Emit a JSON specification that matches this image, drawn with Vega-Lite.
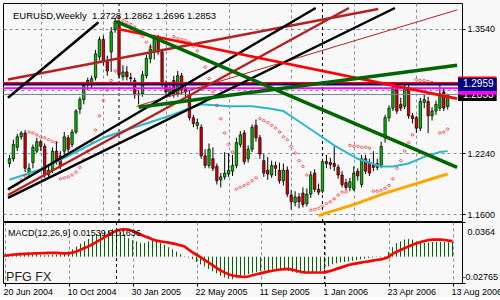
{
  "$schema": "https://vega.github.io/schema/vega-lite/v6.json",
  "background": "#f8f8f8",
  "padding": {"left": 2, "top": 2, "right": 0, "bottom": 0},
  "bounds": "flush",
  "spacing": 1,
  "config": {
    "font": "Liberation Sans",
    "view": {"stroke": "black", "strokeWidth": 1},
    "axis": {"labelFont": "Liberation Sans", "labelFontSize": 9, "labelColor": "black", "tickColor": "black", "tickWidth": 1, "gridColor": "#8090a0", "gridDash": [3, 3], "gridOpacity": 1, "gridWidth": 1}
  },
  "datasets": {
    "bars": [
      {"w":0,"o":1.213,"h":1.222,"l":1.209,"c":1.218,"sar":1.186,"m":0.0013,"s":0.0010},
      {"w":1,"o":1.218,"h":1.238,"l":1.215,"c":1.233,"sar":1.189,"m":0.0020,"s":0.0015},
      {"w":2,"o":1.230,"h":1.244,"l":1.226,"c":1.241,"sar":1.191,"m":0.0034,"s":0.0020},
      {"w":3,"o":1.241,"h":1.247,"l":1.238,"c":1.245,"sar":1.196,"m":0.0038,"s":0.0024},
      {"w":4,"o":1.245,"h":1.248,"l":1.204,"c":1.208,"sar":1.200,"m":0.0031,"s":0.0027},
      {"w":5,"o":1.203,"h":1.213,"l":1.199,"c":1.208,"sar":1.246,"m":0.0024,"s":0.0029},
      {"w":6,"o":1.214,"h":1.233,"l":1.208,"c":1.230,"sar":1.245,"m":0.0024,"s":0.0031},
      {"w":7,"o":1.226,"h":1.240,"l":1.224,"c":1.236,"sar":1.243,"m":0.0024,"s":0.0033},
      {"w":8,"o":1.236,"h":1.238,"l":1.226,"c":1.231,"sar":1.241,"m":0.0024,"s":0.0035},
      {"w":9,"o":1.231,"h":1.234,"l":1.198,"c":1.201,"sar":1.240,"m":0.0016,"s":0.0036},
      {"w":10,"o":1.201,"h":1.211,"l":1.199,"c":1.206,"sar":1.238,"m":0.0013,"s":0.0038},
      {"w":11,"o":1.206,"h":1.230,"l":1.203,"c":1.226,"sar":1.236,"m":0.0016,"s":0.0040},
      {"w":12,"o":1.226,"h":1.236,"l":1.212,"c":1.216,"sar":1.235,"m":0.0020,"s":0.0041},
      {"w":13,"o":1.221,"h":1.226,"l":1.207,"c":1.210,"sar":1.197,"m":0.0020,"s":0.0040},
      {"w":14,"o":1.226,"h":1.246,"l":1.222,"c":1.241,"sar":1.198,"m":0.0031,"s":0.0037},
      {"w":15,"o":1.240,"h":1.243,"l":1.225,"c":1.228,"sar":1.199,"m":0.0042,"s":0.0035},
      {"w":16,"o":1.233,"h":1.249,"l":1.230,"c":1.246,"sar":1.201,"m":0.0056,"s":0.0036},
      {"w":17,"o":1.246,"h":1.270,"l":1.244,"c":1.268,"sar":1.204,"m":0.0078,"s":0.0042},
      {"w":18,"o":1.270,"h":1.283,"l":1.265,"c":1.280,"sar":1.209,"m":0.0107,"s":0.0055},
      {"w":19,"o":1.280,"h":1.298,"l":1.275,"c":1.295,"sar":1.217,"m":0.0136,"s":0.0072},
      {"w":20,"o":1.300,"h":1.303,"l":1.290,"c":1.296,"sar":1.226,"m":0.0161,"s":0.0090},
      {"w":21,"o":1.296,"h":1.305,"l":1.292,"c":1.302,"sar":1.236,"m":0.0186,"s":0.0108},
      {"w":22,"o":1.303,"h":1.332,"l":1.300,"c":1.328,"sar":1.248,"m":0.0215,"s":0.0130},
      {"w":23,"o":1.325,"h":1.346,"l":1.321,"c":1.343,"sar":1.263,"m":0.0234,"s":0.0155},
      {"w":24,"o":1.343,"h":1.347,"l":1.316,"c":1.320,"sar":1.279,"m":0.0252,"s":0.0179},
      {"w":25,"o":1.320,"h":1.326,"l":1.305,"c":1.310,"sar":1.290,"m":0.0266,"s":0.0205},
      {"w":26,"o":1.330,"h":1.356,"l":1.309,"c":1.351,"sar":1.300,"m":0.0277,"s":0.0230},
      {"w":27,"o":1.353,"h":1.366,"l":1.350,"c":1.362,"sar":1.310,"m":0.0288,"s":0.0252},
      {"w":28,"o":1.362,"h":1.364,"l":1.302,"c":1.306,"sar":1.366,"m":0.0288,"s":0.0275},
      {"w":29,"o":1.304,"h":1.316,"l":1.300,"c":1.309,"sar":1.363,"m":0.0262,"s":0.0285},
      {"w":30,"o":1.309,"h":1.315,"l":1.300,"c":1.304,"sar":1.361,"m":0.0234,"s":0.0288},
      {"w":31,"o":1.303,"h":1.308,"l":1.297,"c":1.302,"sar":1.359,"m":0.0194,"s":0.0284},
      {"w":32,"o":1.300,"h":1.303,"l":1.281,"c":1.285,"sar":1.356,"m":0.0172,"s":0.0268},
      {"w":33,"o":1.285,"h":1.290,"l":1.275,"c":1.286,"sar":1.351,"m":0.0161,"s":0.0250},
      {"w":34,"o":1.286,"h":1.310,"l":1.283,"c":1.306,"sar":1.346,"m":0.0143,"s":0.0232},
      {"w":35,"o":1.305,"h":1.327,"l":1.302,"c":1.323,"sar":1.340,"m":0.0143,"s":0.0215},
      {"w":36,"o":1.323,"h":1.338,"l":1.318,"c":1.333,"sar":1.335,"m":0.0161,"s":0.0200},
      {"w":37,"o":1.330,"h":1.348,"l":1.322,"c":1.345,"sar":null,"m":0.0168,"s":0.0180},
      {"w":38,"o":1.345,"h":1.348,"l":1.327,"c":1.330,"sar":null,"m":0.0161,"s":0.0168},
      {"w":39,"o":1.330,"h":1.333,"l":1.293,"c":1.296,"sar":null,"m":0.0143,"s":0.0160},
      {"w":40,"o":1.295,"h":1.300,"l":1.285,"c":1.288,"sar":null,"m":0.0125,"s":0.0154},
      {"w":41,"o":1.287,"h":1.298,"l":1.283,"c":1.292,"sar":null,"m":0.0100,"s":0.0148},
      {"w":42,"o":1.300,"h":1.305,"l":1.282,"c":1.286,"sar":1.346,"m":0.0078,"s":0.0140},
      {"w":43,"o":1.286,"h":1.310,"l":1.283,"c":1.305,"sar":1.344,"m":0.0053,"s":0.0130},
      {"w":44,"o":1.305,"h":1.308,"l":1.285,"c":1.290,"sar":1.343,"m":0.0027,"s":0.0118},
      {"w":45,"o":1.291,"h":1.296,"l":1.283,"c":1.288,"sar":1.342,"m":0.0005,"s":0.0107},
      {"w":46,"o":1.285,"h":1.290,"l":1.258,"c":1.261,"sar":1.340,"m":-0.0009,"s":0.0075},
      {"w":47,"o":1.261,"h":1.264,"l":1.251,"c":1.255,"sar":1.336,"m":-0.0027,"s":0.0045},
      {"w":48,"o":1.253,"h":1.260,"l":1.249,"c":1.256,"sar":1.331,"m":-0.0056,"s":0.0020},
      {"w":49,"o":1.251,"h":1.254,"l":1.218,"c":1.221,"sar":1.323,"m":-0.0081,"s":-0.0005},
      {"w":50,"o":1.221,"h":1.228,"l":1.208,"c":1.211,"sar":1.314,"m":-0.0103,"s":-0.0035},
      {"w":51,"o":1.211,"h":1.234,"l":1.208,"c":1.228,"sar":1.302,"m":-0.0129,"s":-0.0060},
      {"w":52,"o":1.218,"h":1.230,"l":1.205,"c":1.208,"sar":1.288,"m":-0.0154,"s":-0.0090},
      {"w":53,"o":1.210,"h":1.213,"l":1.191,"c":1.195,"sar":1.274,"m":-0.0176,"s":-0.0118},
      {"w":54,"o":1.196,"h":1.203,"l":1.188,"c":1.199,"sar":1.260,"m":-0.0201,"s":-0.0145},
      {"w":55,"o":1.199,"h":1.225,"l":1.196,"c":1.203,"sar":1.245,"m":-0.0219,"s":-0.0165},
      {"w":56,"o":1.202,"h":1.224,"l":1.199,"c":1.206,"sar":1.233,"m":-0.0233,"s":-0.0185},
      {"w":57,"o":1.205,"h":1.222,"l":1.200,"c":1.211,"sar":1.225,"m":-0.0237,"s":-0.0198},
      {"w":58,"o":1.211,"h":1.240,"l":1.208,"c":1.235,"sar":1.186,"m":-0.0219,"s":-0.0205},
      {"w":59,"o":1.233,"h":1.247,"l":1.230,"c":1.243,"sar":1.188,"m":-0.0201,"s":-0.0210},
      {"w":60,"o":1.245,"h":1.248,"l":1.212,"c":1.215,"sar":1.190,"m":-0.0194,"s":-0.0212},
      {"w":61,"o":1.218,"h":1.232,"l":1.214,"c":1.228,"sar":1.192,"m":-0.0183,"s":-0.0208},
      {"w":62,"o":1.228,"h":1.254,"l":1.225,"c":1.251,"sar":1.195,"m":-0.0170,"s":-0.0195},
      {"w":63,"o":1.253,"h":1.259,"l":1.236,"c":1.240,"sar":1.198,"m":-0.0160,"s":-0.0185},
      {"w":64,"o":1.240,"h":1.243,"l":1.218,"c":1.223,"sar":1.260,"m":-0.0150,"s":-0.0175},
      {"w":65,"o":1.216,"h":1.223,"l":1.199,"c":1.203,"sar":1.258,"m":-0.0145,"s":-0.0165},
      {"w":66,"o":1.206,"h":1.220,"l":1.196,"c":1.202,"sar":1.256,"m":-0.0140,"s":-0.0155},
      {"w":67,"o":1.201,"h":1.216,"l":1.198,"c":1.211,"sar":1.253,"m":-0.0135,"s":-0.0148},
      {"w":68,"o":1.211,"h":1.215,"l":1.200,"c":1.208,"sar":1.250,"m":-0.0135,"s":-0.0140},
      {"w":69,"o":1.206,"h":1.214,"l":1.192,"c":1.195,"sar":1.246,"m":-0.0140,"s":-0.0135},
      {"w":70,"o":1.195,"h":1.213,"l":1.190,"c":1.206,"sar":1.241,"m":-0.0145,"s":-0.0130},
      {"w":71,"o":1.206,"h":1.210,"l":1.178,"c":1.181,"sar":1.238,"m":-0.0150,"s":-0.0129},
      {"w":72,"o":1.180,"h":1.185,"l":1.165,"c":1.173,"sar":1.231,"m":-0.0160,"s":-0.0138},
      {"w":73,"o":1.172,"h":1.184,"l":1.168,"c":1.178,"sar":1.224,"m":-0.0170,"s":-0.0148},
      {"w":74,"o":1.178,"h":1.182,"l":1.166,"c":1.173,"sar":1.216,"m":-0.0176,"s":-0.0158},
      {"w":75,"o":1.182,"h":1.188,"l":1.167,"c":1.170,"sar":1.210,"m":-0.0176,"s":-0.0165},
      {"w":76,"o":1.171,"h":1.187,"l":1.168,"c":1.181,"sar":1.201,"m":-0.0170,"s":-0.0166},
      {"w":77,"o":1.181,"h":1.205,"l":1.177,"c":1.201,"sar":1.164,"m":-0.0160,"s":-0.0166},
      {"w":78,"o":1.203,"h":1.207,"l":1.183,"c":1.186,"sar":1.165,"m":-0.0155,"s":-0.0166},
      {"w":79,"o":1.186,"h":1.192,"l":1.180,"c":1.183,"sar":1.166,"m":-0.0150,"s":-0.0166},
      {"w":80,"o":1.184,"h":1.218,"l":1.182,"c":1.215,"sar":1.168,"m":-0.0135,"s":-0.0165},
      {"w":81,"o":1.215,"h":1.222,"l":1.208,"c":1.213,"sar":1.171,"m":-0.0100,"s":-0.0155},
      {"w":82,"o":1.214,"h":1.219,"l":1.207,"c":1.212,"sar":1.173,"m":-0.0080,"s":-0.0142},
      {"w":83,"o":1.213,"h":1.231,"l":1.205,"c":1.210,"sar":1.176,"m":-0.0070,"s":-0.0128},
      {"w":84,"o":1.209,"h":1.212,"l":1.197,"c":1.201,"sar":1.180,"m":-0.0060,"s":-0.0115},
      {"w":85,"o":1.201,"h":1.205,"l":1.188,"c":1.191,"sar":1.183,"m":-0.0056,"s":-0.0102},
      {"w":86,"o":1.193,"h":1.197,"l":1.185,"c":1.188,"sar":1.183,"m":-0.0050,"s":-0.0088},
      {"w":87,"o":1.188,"h":1.198,"l":1.184,"c":1.194,"sar":1.232,"m":-0.0045,"s":-0.0078},
      {"w":88,"o":1.186,"h":1.210,"l":1.184,"c":1.203,"sar":1.231,"m":-0.0035,"s":-0.0070},
      {"w":89,"o":1.205,"h":1.208,"l":1.195,"c":1.200,"sar":1.231,"m":-0.0028,"s":-0.0062},
      {"w":90,"o":1.191,"h":1.222,"l":1.188,"c":1.218,"sar":1.230,"m":-0.0020,"s":-0.0056},
      {"w":91,"o":1.218,"h":1.222,"l":1.202,"c":1.205,"sar":1.230,"m":-0.0013,"s":-0.0050},
      {"w":92,"o":1.214,"h":1.218,"l":1.200,"c":1.203,"sar":1.229,"m":-0.0008,"s":-0.0042},
      {"w":93,"o":1.211,"h":1.226,"l":1.205,"c":1.209,"sar":1.184,"m":-0.0004,"s":-0.0035},
      {"w":94,"o":1.209,"h":1.218,"l":1.206,"c":1.213,"sar":1.184,"m":0.0005,"s":-0.0028},
      {"w":95,"o":1.211,"h":1.236,"l":1.208,"c":1.231,"sar":1.185,"m":0.0005,"s":-0.0020},
      {"w":96,"o":1.240,"h":1.264,"l":1.235,"c":1.261,"sar":1.187,"m":0.0050,"s":-0.0003},
      {"w":97,"o":1.261,"h":1.274,"l":1.257,"c":1.271,"sar":1.190,"m":0.0100,"s":0.0030},
      {"w":98,"o":1.271,"h":1.297,"l":1.268,"c":1.293,"sar":1.197,"m":0.0143,"s":0.0050},
      {"w":99,"o":1.295,"h":1.298,"l":1.265,"c":1.268,"sar":1.208,"m":0.0161,"s":0.0070},
      {"w":100,"o":1.275,"h":1.282,"l":1.268,"c":1.271,"sar":1.216,"m":0.0179,"s":0.0089},
      {"w":101,"o":1.273,"h":1.297,"l":1.270,"c":1.293,"sar":1.226,"m":0.0186,"s":0.0108},
      {"w":102,"o":1.291,"h":1.296,"l":1.260,"c":1.263,"sar":1.235,"m":0.0179,"s":0.0125},
      {"w":103,"o":1.263,"h":1.266,"l":1.255,"c":1.260,"sar":1.243,"m":0.0161,"s":0.0140},
      {"w":104,"o":1.261,"h":1.263,"l":1.245,"c":1.250,"sar":1.301,"m":0.0143,"s":0.0154},
      {"w":105,"o":1.250,"h":1.282,"l":1.247,"c":1.278,"sar":1.300,"m":0.0143,"s":0.0165},
      {"w":106,"o":1.277,"h":1.285,"l":1.271,"c":1.280,"sar":1.300,"m":0.0150,"s":0.0175},
      {"w":107,"o":1.278,"h":1.283,"l":1.245,"c":1.263,"sar":1.299,"m":0.0154,"s":0.0179},
      {"w":108,"o":1.263,"h":1.272,"l":1.258,"c":1.268,"sar":1.298,"m":0.0154,"s":0.0180},
      {"w":109,"o":1.268,"h":1.279,"l":1.264,"c":1.275,"sar":1.297,"m":0.0154,"s":0.0179},
      {"w":110,"o":1.271,"h":1.298,"l":1.268,"c":1.286,"sar":1.245,"m":0.0154,"s":0.0175},
      {"w":111,"o":1.288,"h":1.292,"l":1.268,"c":1.271,"sar":1.246,"m":0.0150,"s":0.0168},
      {"w":112,"o":1.2728,"h":1.2862,"l":1.2696,"c":1.2853,"sar":1.249,"m":0.01539,"s":0.01636}
    ],
    "ma": [
      {"w":0,"p":1.196},{"w":8,"p":1.207},{"w":16,"p":1.223},{"w":24,"p":1.240},{"w":32,"p":1.251},
      {"w":41,"p":1.263},{"w":46,"p":1.271},{"w":49,"p":1.275},{"w":56,"p":1.273},{"w":62,"p":1.273},
      {"w":66,"p":1.271},{"w":70,"p":1.268},{"w":74,"p":1.257},{"w":78,"p":1.246},{"w":83,"p":1.232},
      {"w":89,"p":1.218},{"w":95,"p":1.210},{"w":98,"p":1.210},{"w":102,"p":1.213},{"w":106,"p":1.220},
      {"w":110,"p":1.225},{"w":112,"p":1.226}
    ],
    "ma2": [
      {"w":79,"p":1.158},{"w":80,"p":1.160},{"w":84,"p":1.165},{"w":88,"p":1.170},{"w":92,"p":1.176},
      {"w":96,"p":1.182},{"w":100,"p":1.187},{"w":104,"p":1.192},{"w":108,"p":1.197},{"w":112,"p":1.202}
    ],
    "years": [{"w":28,"date":"2005-01-02"},{"w":80,"date":"2006-01-01"}],
    "levels": [
      {"line":"Bid","price":1.2853},
      {"line":"L3","price":1.2918},
      {"line":"L1","price":1.2975},
      {"line":"L2","price":1.2959}
    ],
    "trends": [
      {"line":"t1","w":-0.375,"p":1.282},{"line":"t1","w":22.75,"p":1.361},
      {"line":"t2","w":-0.375,"p":1.186},{"line":"t2","w":78.25,"p":1.376},
      {"line":"t3","w":-0.375,"p":1.177},{"line":"t3","w":98.5,"p":1.376},
      {"line":"t4","w":-0.375,"p":1.180},{"line":"t4","w":86.75,"p":1.376},
      {"line":"t5","w":-0.375,"p":1.301},{"line":"t5","w":94.25,"p":1.375},
      {"line":"t6","w":32.5,"p":1.273},{"line":"t6","w":114.4,"p":1.374},
      {"line":"t7","w":27.75,"p":1.354},{"line":"t7","w":114.4,"p":1.281},
      {"line":"t8","w":27.25,"p":1.362},{"line":"t8","w":114.4,"p":1.209},
      {"line":"t9","w":33,"p":1.272},{"line":"t9","w":114.4,"p":1.316}
    ],
    "captions": [
      {"panel":"price","text":"EURUSD,Weekly\u00a0 1.2728 1.2862 1.2696 1.2853"},
      {"panel":"macd","text":"MACD(12,26,9) 0.01539 0.01636"},
      {"panel":"brand","text":"PFG FX"}
    ]
  },
  "vconcat": [
    {
      "width": 459,
      "height": 218,
      "layer": [
        {
          "data": {"name": "bars"},
          "mark": {"type": "rule", "color": "black", "strokeWidth": 1, "clip": true},
          "encoding": {
            "x": {"field": "w", "type": "quantitative", "title": null,
              "scale": {"domain": [-0.375, 114.375], "nice": false, "zero": false},
              "axis": {"orient": "bottom", "values": [8,16,24,32,40,48,56,64,72,80,88,96,104,112], "labels": false, "ticks": false, "domain": false, "grid": true}},
            "y": {"field": "l", "type": "quantitative", "title": null,
              "scale": {"domain": [1.158, 1.376], "nice": false, "zero": false},
              "axis": {"orient": "right", "values": [1.16, 1.192, 1.224, 1.257, 1.29, 1.322, 1.354], "labelExpr": "abs(datum.value - 1.29) < 0.0001 ? '' : format(datum.value, '.4f')", "grid": true, "domain": false, "tickSize": 3, "labelPadding": 2}},
            "y2": {"field": "h"}
          }
        },
        {
          "data": {"name": "years"},
          "mark": {"type": "rule", "color": "black", "strokeDash": [3, 3], "strokeWidth": 1},
          "encoding": {"x": {"field": "w", "type": "quantitative"}}
        },
        {
          "data": {"name": "bars"},
          "mark": {"type": "bar", "width": 2.4, "stroke": "black", "strokeWidth": 0.7, "clip": true},
          "encoding": {
            "x": {"field": "w", "type": "quantitative"},
            "y": {"field": "o", "type": "quantitative"},
            "y2": {"field": "c"},
            "fill": {"condition": {"test": "datum.c >= datum.o", "value": "#00c000"}, "value": "#e00000"}
          }
        },
        {
          "data": {"name": "ma"},
          "mark": {"type": "line", "color": "#2cb8c8", "strokeWidth": 2, "clip": true},
          "encoding": {"x": {"field": "w", "type": "quantitative"}, "y": {"field": "p", "type": "quantitative"}}
        },
        {
          "data": {"name": "ma2"},
          "mark": {"type": "line", "color": "#ffa500", "strokeWidth": 3, "clip": true},
          "encoding": {"x": {"field": "w", "type": "quantitative"}, "y": {"field": "p", "type": "quantitative"}}
        },
        {
          "data": {"name": "bars"},
          "mark": {"type": "point", "shape": "diamond", "filled": false, "size": 9, "color": "#ff0000", "strokeWidth": 1, "clip": true},
          "encoding": {"x": {"field": "w", "type": "quantitative"}, "y": {"field": "sar", "type": "quantitative"}}
        },
        {
          "data": {"name": "levels"},
          "transform": [{"filter": "datum.line == 'Bid'"}],
          "mark": {"type": "rule", "color": "#778899", "strokeWidth": 1, "clip": true},
          "encoding": {"y": {"field": "price", "type": "quantitative"}}
        },
        {
          "data": {"name": "levels"},
          "transform": [{"filter": "datum.line != 'Bid'"}],
          "mark": {"type": "rule", "strokeWidth": 2, "clip": true},
          "encoding": {
            "y": {"field": "price", "type": "quantitative"},
            "stroke": {"field": "line", "type": "nominal", "scale": {"domain": ["L3", "L1", "L2"], "range": ["#ff00ff", "#ff0000", "#000080"]}, "legend": null}
          }
        },
        {
          "data": {"name": "trends"},
          "transform": [{"filter": {"field": "line", "oneOf": ["t6"]}}],
          "mark": {"type": "line", "color": "#b22222", "strokeWidth": 1, "clip": true},
          "encoding": {"x": {"field": "w", "type": "quantitative"}, "y": {"field": "p", "type": "quantitative"}, "detail": {"field": "line"}}
        },
        {
          "data": {"name": "trends"},
          "transform": [{"filter": {"field": "line", "oneOf": ["t4", "t5"]}}],
          "mark": {"type": "line", "color": "#b22222", "strokeWidth": 2.5, "clip": true},
          "encoding": {"x": {"field": "w", "type": "quantitative"}, "y": {"field": "p", "type": "quantitative"}, "detail": {"field": "line"}}
        },
        {
          "data": {"name": "trends"},
          "transform": [{"filter": {"field": "line", "oneOf": ["t1", "t2", "t3"]}}],
          "mark": {"type": "line", "color": "black", "strokeWidth": 2.5, "clip": true},
          "encoding": {"x": {"field": "w", "type": "quantitative"}, "y": {"field": "p", "type": "quantitative"}, "detail": {"field": "line"}}
        },
        {
          "data": {"name": "trends"},
          "transform": [{"filter": {"field": "line", "oneOf": ["t7"]}}],
          "mark": {"type": "line", "color": "#ff0000", "strokeWidth": 2.7, "clip": true},
          "encoding": {"x": {"field": "w", "type": "quantitative"}, "y": {"field": "p", "type": "quantitative"}, "detail": {"field": "line"}}
        },
        {
          "data": {"name": "trends"},
          "transform": [{"filter": {"field": "line", "oneOf": ["t8", "t9"]}}],
          "mark": {"type": "line", "color": "#006400", "strokeWidth": 3.5, "clip": true},
          "encoding": {"x": {"field": "w", "type": "quantitative"}, "y": {"field": "p", "type": "quantitative"}, "detail": {"field": "line"}}
        },
        {
          "data": {"name": "levels"},
          "transform": [{"filter": "datum.line == 'Bid'"}],
          "mark": {"type": "bar", "height": 13, "fill": "black", "clip": false},
          "encoding": {"x": {"datum": 114.625}, "x2": {"datum": 124.5}, "y": {"field": "price", "type": "quantitative"}}
        },
        {
          "data": {"name": "levels"},
          "transform": [{"filter": "datum.line == 'Bid'"}],
          "mark": {"type": "text", "align": "left", "baseline": "middle", "color": "white", "fontSize": 10, "clip": false},
          "encoding": {"x": {"datum": 115.9}, "y": {"field": "price", "type": "quantitative"}, "text": {"field": "price", "type": "quantitative", "format": ".4f"}}
        },
        {
          "data": {"name": "levels"},
          "transform": [{"filter": "datum.line != 'Bid'"}],
          "mark": {"type": "bar", "height": 13, "clip": false},
          "encoding": {
            "x": {"datum": 114.625}, "x2": {"datum": 124.5},
            "y": {"field": "price", "type": "quantitative"},
            "fill": {"field": "line", "type": "nominal", "scale": {"domain": ["L3", "L1", "L2"], "range": ["#ff00ff", "#ff0000", "#000080"]}, "legend": null}
          }
        },
        {
          "data": {"name": "levels"},
          "transform": [{"filter": "datum.line == 'L2'"}],
          "mark": {"type": "text", "align": "left", "baseline": "middle", "color": "white", "fontSize": 10, "clip": false},
          "encoding": {"x": {"datum": 115.9}, "y": {"field": "price", "type": "quantitative"}, "text": {"field": "price", "type": "quantitative", "format": ".4f"}}
        },
        {
          "data": {"name": "captions"},
          "transform": [{"filter": "datum.panel == 'price'"}],
          "mark": {"type": "text", "align": "left", "baseline": "middle", "color": "black", "fontSize": 9.5},
          "encoding": {"x": {"datum": 0.9}, "y": {"datum": 1.3675}, "text": {"field": "text"}}
        }
      ]
    },
    {
      "width": 459,
      "height": 61,
      "layer": [
        {
          "data": {"name": "bars"},
          "mark": {"type": "rule", "color": "#006400", "strokeWidth": 1, "clip": true},
          "encoding": {
            "x": {"field": "w", "type": "quantitative", "title": null,
              "scale": {"domain": [-0.375, 114.375], "nice": false, "zero": false},
              "axis": {"orient": "bottom", "values": [0,8,16,24,32,40,48,56,64,72,80,88,96,104,112],
                "labelExpr": "datum.value % 16 == 0 ? timeFormat(datetime(2004, 5, 20 + 7 * datum.value), '%-d %b %Y') : ''",
                "labelAlign": "left", "labelOffset": -1.5, "labelPadding": 1, "labelFlush": false, "labelOverlap": false, "labelBound": false,
                "tickSize": 3, "tickOpacity": {"condition": {"test": "datum.value % 16 == 0", "value": 1}, "value": 0},
                "domain": false, "grid": true}},
            "y": {"field": "m", "type": "quantitative", "title": null,
              "scale": {"domain": [-0.02765, 0.0364], "nice": false, "zero": false},
              "axis": {"orient": "right", "values": [0.0364, 0, -0.02765],
                "labelExpr": "datum.value == 0 ? '0.00' : (datum.value > 0 ? '0.0364' : '-0.02765')",
                "labelOffset": {"condition": [{"test": "datum.value > 0.01", "value": 9}, {"test": "datum.value < -0.01", "value": -7}], "value": 0},
                "labelPadding": {"condition": {"test": "datum.value < -0.01", "value": -3}, "value": 2},
                "grid": false, "domain": false, "tickSize": 3}},
            "y2": {"datum": 0}
          }
        },
        {
          "data": {"name": "years"},
          "mark": {"type": "rule", "color": "black", "strokeDash": [3, 3], "strokeWidth": 1},
          "encoding": {"x": {"field": "w", "type": "quantitative"}}
        },
        {
          "data": {"name": "bars"},
          "mark": {"type": "line", "color": "#ff0000", "strokeWidth": 2.7, "clip": true},
          "encoding": {"x": {"field": "w", "type": "quantitative"}, "y": {"field": "s", "type": "quantitative"}}
        },
        {
          "data": {"name": "captions"},
          "transform": [{"filter": "datum.panel == 'macd'"}],
          "mark": {"type": "text", "align": "left", "baseline": "middle", "color": "black", "fontSize": 9},
          "encoding": {"x": {"datum": 0.9}, "y": {"datum": 0.0249}, "text": {"field": "text"}}
        },
        {
          "data": {"name": "captions"},
          "transform": [{"filter": "datum.panel == 'brand'"}],
          "mark": {"type": "text", "align": "left", "baseline": "middle", "color": "#222222", "fontSize": 12.5},
          "encoding": {"x": {"datum": 0.4}, "y": {"datum": -0.0214}, "text": {"field": "text"}}
        }
      ]
    }
  ]
}
